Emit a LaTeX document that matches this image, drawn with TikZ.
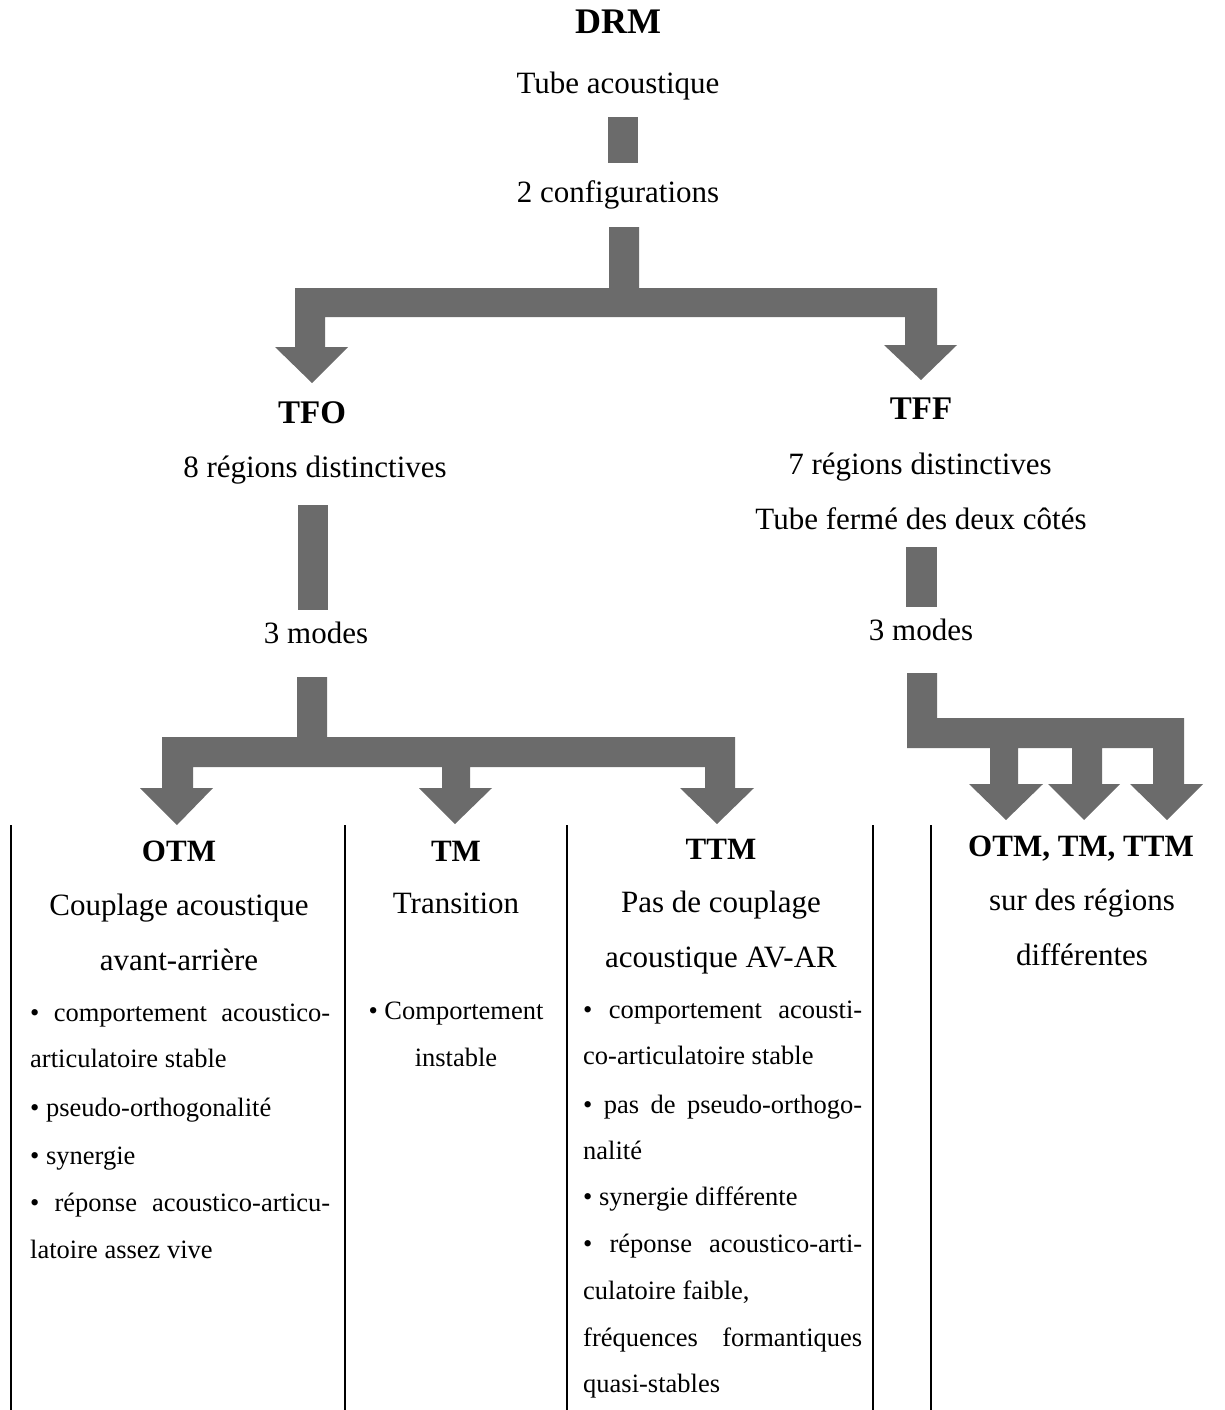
\documentclass[tikz,border=0pt]{standalone}
\usepackage{fontspec}
\setmainfont{Liberation Serif}
\begin{document}
\begin{tikzpicture}[x=1pt,y=-1pt,
  big/.style={font=\fontsize{31}{31}\selectfont,inner sep=0pt,anchor=base},
  title/.style={font=\fontsize{36}{36}\selectfont\bfseries,inner sep=0pt,anchor=base},
  head/.style={font=\fontsize{33}{33}\selectfont\bfseries,inner sep=0pt,anchor=base},
  lowhead/.style={font=\fontsize{31}{31}\selectfont\bfseries,inner sep=0pt,anchor=base},
  bul/.style={font=\fontsize{26.5}{26.5}\selectfont,inner sep=0pt,anchor=base west},
  bulc/.style={font=\fontsize{26.5}{26.5}\selectfont,inner sep=0pt,anchor=base},
  fat/.style={fill=black!58,draw=none},
  sep/.style={line width=2pt}]
\useasboundingbox (0,0) rectangle (1225,1410);

% --- top of the tree ---
\node[title] (drm) at (618,34) {DRM};
\node[big] (tube) at (618,94) {Tube acoustique};
\node[big] (conf) at (618,202) {2 configurations};

\fill[fat] (608,117) rectangle (638,163);

% split into the two configurations
\fill[fat] (609,227) -- (609,288) -- (295,288) -- (295,347) -- (275,347) -- (312,383)
  -- (348,347) -- (325,347) -- (325,317) -- (905,317) -- (905,345) -- (884,345)
  -- (921,380) -- (957,345) -- (937,345) -- (937,288) -- (639,288) -- (639,227) -- cycle;

% --- open tube branch ---
\node[head] (tfo) at (312,423) {TFO};
\node[big] (tfo8) at (315,477) {8 régions distinctives};
\fill[fat] (298,505) rectangle (328,610);
\node[big] (tfo3) at (316,643) {3 modes};

\fill[fat] (297,677) -- (297,737) -- (162,737) -- (162,788) -- (140,788) -- (177,825)
  -- (213,788) -- (193,788) -- (193,767) -- (442,767) -- (442,788) -- (419,788)
  -- (455,824) -- (492,788) -- (470,788) -- (470,767) -- (705,767) -- (705,788)
  -- (680,788) -- (717,824) -- (754,788) -- (735,788) -- (735,737) -- (327,737)
  -- (327,677) -- cycle;

% --- closed tube branch ---
\node[head] (tff) at (921,419) {TFF};
\node[big] (tff7) at (920,474) {7 régions distinctives};
\node[big] (tfft) at (921,529) {Tube fermé des deux côtés};
\fill[fat] (906,547) rectangle (937,607);
\node[big] (tff3) at (921,640) {3 modes};

\fill[fat] (907,673) -- (907,748) -- (990,748) -- (990,784) -- (969,784) -- (1006,820)
  -- (1043,784) -- (1018,784) -- (1018,748) -- (1072,748) -- (1072,784) -- (1048,784)
  -- (1084,820) -- (1120,784) -- (1102,784) -- (1102,748) -- (1153,748) -- (1153,784)
  -- (1130,784) -- (1167,820) -- (1203,784) -- (1184,784) -- (1184,718) -- (937,718)
  -- (937,673) -- cycle;

% --- column rules ---
\coordinate (r1t) at (11,825);   \coordinate (r1b) at (11,1410);
\coordinate (r2t) at (345,825);  \coordinate (r2b) at (345,1410);
\coordinate (r3t) at (567,825);  \coordinate (r3b) at (567,1410);
\coordinate (r4t) at (873,825);  \coordinate (r4b) at (873,1410);
\coordinate (r5t) at (931,825);  \coordinate (r5b) at (931,1410);
\draw[sep] (r1t) -- (r1b);
\draw[sep] (r2t) -- (r2b);
\draw[sep] (r3t) -- (r3b);
\draw[sep] (r4t) -- (r4b);
\draw[sep] (r5t) -- (r5b);

% --- OTM column ---
\node[lowhead] (otm) at (179,861) {OTM};
\node[big] (otma) at (179,915) {Couplage acoustique};
\node[big] (otmb) at (179,970) {avant-arrière};
\node[bul] (o1) at (30,1021) {\hbox to 300pt{\textbullet\hfill comportement\hfill acoustico-}};
\node[bul] (o2) at (30,1067) {articulatoire stable};
\node[bul] (o3) at (30,1116) {\textbullet{} pseudo-orthogonalité};
\node[bul] (o4) at (30,1164) {\textbullet{} synergie};
\node[bul] (o5) at (30,1211) {\hbox to 300pt{\textbullet\hfill réponse\hfill acoustico-articu-}};
\node[bul] (o6) at (30,1258) {latoire assez vive};

% --- TM column ---
\node[lowhead] (tm) at (456,861) {TM};
\node[big] (tma) at (456,913) {Transition};
\node[bulc] (t1) at (456,1019) {\textbullet{} Comportement};
\node[bulc] (t2) at (456,1066) {instable};

% --- TTM column ---
\node[lowhead] (ttm) at (721,859) {TTM};
\node[big] (ttma) at (721,912) {Pas de couplage};
\node[big] (ttmb) at (721,967) {acoustique AV-AR};
\node[bul] (p1) at (583,1018) {\hbox to 279pt{\textbullet\hfill comportement\hfill acousti-}};
\node[bul] (p2) at (583,1064) {co-articulatoire stable};
\node[bul] (p3) at (583,1113) {\hbox to 279pt{\textbullet\hfill pas\hfill de\hfill pseudo-orthogo-}};
\node[bul] (p4) at (583,1159) {nalité};
\node[bul] (p5) at (583,1205) {\textbullet{} synergie différente};
\node[bul] (p6) at (583,1252) {\hbox to 279pt{\textbullet\hfill réponse\hfill acoustico-arti-}};
\node[bul] (p7) at (583,1299) {culatoire faible,};
\node[bul] (p8) at (583,1346) {\hbox to 279pt{fréquences\hfill formantiques}};
\node[bul] (p9) at (583,1392) {quasi-stables};

% --- closed tube modes ---
\node[lowhead] (all) at (1081,856) {OTM, TM, TTM};
\node[big] (alla) at (1082,910) {sur des régions};
\node[big] (allb) at (1082,965) {différentes};
\end{tikzpicture}
\end{document}
